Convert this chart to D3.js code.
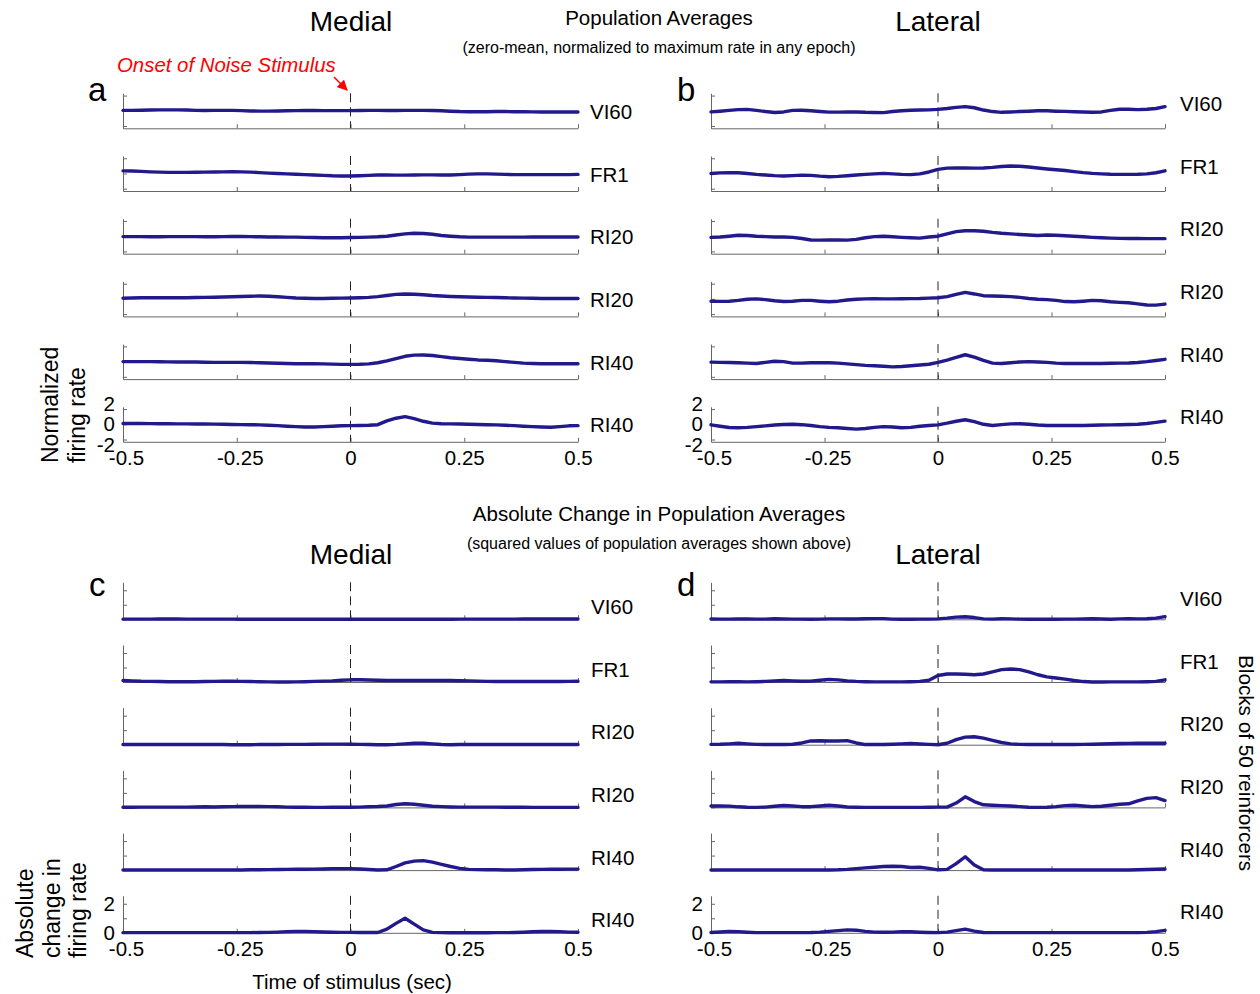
<!DOCTYPE html>
<html>
<head>
<meta charset="utf-8">
<script src="https://cdn.jsdelivr.net/npm/d3@7"></script>
<style>
  body { margin: 0; background: #fff; }
  text { font-family: Arial, "Liberation Sans", Helvetica, sans-serif; }
</style>
</head>
<body>
<svg id="chart" width="1260" height="994"></svg>
<script>
// Time bins (sec relative to noise onset)
const time = [-0.5,-0.48,-0.46,-0.44,-0.42,-0.4,-0.38,-0.36,-0.34,-0.32,-0.3,-0.28,-0.26,-0.24,-0.22,-0.2,-0.18,-0.16,-0.14,-0.12,-0.1,-0.08,-0.06,-0.04,-0.02,0,0.02,0.04,0.06,0.08,0.1,0.12,0.14,0.16,0.18,0.2,0.22,0.24,0.26,0.28,0.3,0.32,0.34,0.36,0.38,0.4,0.42,0.44,0.46,0.48,0.5];

const rowLabels = ["VI60", "FR1", "RI20", "RI20", "RI40", "RI40"];
const xTicks = [-0.5, -0.25, 0, 0.25, 0.5];
const xTickLabels = ["-0.5", "-0.25", "0", "0.25", "0.5"];
const avgTicks = [-2, 0, 2];
const absTicks = [0, 1, 2];
const absTickLabels = ["0", "", "2"];

// a: Medial population averages
const aVI60 = [0.05,0.05,0.08,0.1,0.12, 0.12,0.12,0.1,0.06,0.04, 0.05,0.06,0.05,0.02,-0.02, -0.04,-0.04,-0.02,0,0.02, 0.03,0.03,0.02,0.02,0.02, 0.02,0.04,0.05,0.05,0.04, 0.04,0.05,0.06,0.05,0.03, 0,-0.05,-0.1,-0.12,-0.12, -0.12,-0.1,-0.1,-0.12,-0.12, -0.14,-0.15,-0.15,-0.15,-0.15, -0.15];
const aFR1 = [0.35,0.33,0.28,0.22,0.18, 0.15,0.15,0.15,0.16,0.18, 0.2,0.22,0.24,0.22,0.18, 0.12,0.05,0,-0.05,-0.1, -0.15,-0.2,-0.25,-0.3,-0.32, -0.33,-0.3,-0.25,-0.2,-0.2, -0.22,-0.22,-0.2,-0.18,-0.18, -0.2,-0.2,-0.15,-0.08,-0.05, -0.05,-0.08,-0.12,-0.15,-0.15, -0.15,-0.15,-0.15,-0.15,-0.15, -0.12];
const aRI20a = [-0.05,-0.05,-0.06,-0.08,-0.08, -0.06,-0.05,-0.05,-0.06,-0.08, -0.08,-0.06,-0.04,-0.04,-0.06, -0.08,-0.1,-0.1,-0.12,-0.12, -0.15,-0.18,-0.2,-0.2,-0.2, -0.18,-0.15,-0.12,-0.08,0, 0.15,0.3,0.38,0.35,0.25, 0.1,0,-0.08,-0.12,-0.12, -0.12,-0.12,-0.12,-0.12,-0.12, -0.1,-0.1,-0.1,-0.1,-0.1, -0.1];
const aRI20b = [0.1,0.12,0.15,0.15,0.15, 0.15,0.15,0.15,0.18,0.2, 0.22,0.25,0.28,0.32,0.35, 0.38,0.35,0.28,0.2,0.12, 0.08,0.05,0.05,0.08,0.1, 0.12,0.15,0.2,0.3,0.45, 0.6,0.65,0.62,0.55,0.45, 0.38,0.32,0.28,0.25,0.22, 0.2,0.18,0.15,0.12,0.1, 0.08,0.06,0.05,0.05,0.05, 0.05];
const aRI40a = [0,0,0,0,-0.02, -0.03,-0.05,-0.05,-0.06,-0.08, -0.1,-0.1,-0.1,-0.1,-0.12, -0.15,-0.18,-0.22,-0.25,-0.28, -0.28,-0.28,-0.3,-0.33,-0.36, -0.37,-0.35,-0.3,-0.15,0.1, 0.4,0.7,0.85,0.87,0.8, 0.65,0.5,0.4,0.3,0.22, 0.18,0.12,0,-0.1,-0.2, -0.25,-0.28,-0.28,-0.28,-0.28, -0.28];
const aRI40b = [0.1,0.1,0.1,0.09,0.08, 0.07,0.06,0.05,0.04,0.03, 0.02,0,-0.02,-0.04,-0.05, -0.08,-0.12,-0.18,-0.25,-0.3, -0.35,-0.35,-0.3,-0.25,-0.2, -0.18,-0.15,-0.12,-0.05,0.45, 0.8,1.0,0.75,0.4,0.15, 0.08,0.05,0.03,0,-0.02, -0.05,-0.08,-0.12,-0.18,-0.25, -0.3,-0.35,-0.38,-0.3,-0.2, -0.18];

// b: Lateral population averages
const bVI60 = [-0.14,-0.05,0.05,0.15,0.18, 0.05,-0.1,-0.22,-0.15,0.05, 0.08,0,-0.1,-0.18,-0.18, -0.15,-0.15,-0.2,-0.22,-0.24, -0.1,0,0.08,0.1,0.12, 0.19,0.3,0.45,0.55,0.4, 0.1,-0.1,-0.2,-0.15,-0.1, -0.05,0,0,-0.05,-0.08, -0.12,-0.15,-0.2,-0.15,0.05, 0.2,0.2,0.15,0.2,0.3, 0.55];
const bFR1 = [0,0.08,0.12,0.1,0, -0.12,-0.2,-0.28,-0.32,-0.28, -0.22,-0.25,-0.35,-0.42,-0.38, -0.3,-0.2,-0.12,-0.05,0.02, -0.05,-0.12,-0.15,-0.05,0.2, 0.55,0.7,0.72,0.72,0.7, 0.72,0.8,0.92,0.98,0.95, 0.85,0.72,0.6,0.5,0.4, 0.25,0.12,0.02,-0.05,-0.1, -0.12,-0.12,-0.1,-0.05,0.1, 0.35];
const bRI20a = [-0.15,-0.1,0,0.12,0.1, 0,-0.05,-0.1,-0.1,-0.15, -0.3,-0.5,-0.52,-0.5,-0.48, -0.52,-0.42,-0.2,-0.05,0, -0.08,-0.15,-0.2,-0.25,-0.1, 0,0.3,0.6,0.72,0.72, 0.65,0.5,0.38,0.3,0.22, 0.15,0.1,0.15,0.12,0.05, 0,-0.08,-0.15,-0.2,-0.25, -0.28,-0.3,-0.3,-0.32,-0.32, -0.32];
const bRI20b = [-0.3,-0.32,-0.3,-0.2,-0.05, 0,-0.1,-0.25,-0.35,-0.3, -0.2,-0.2,-0.3,-0.38,-0.3, -0.15,-0.05,0,0.02,0, 0,0.02,0.03,0.05,0.1, 0.15,0.3,0.6,0.85,0.65, 0.42,0.38,0.35,0.3,0.2, 0.05,-0.05,-0.1,-0.2,-0.35, -0.38,-0.3,-0.2,-0.25,-0.38, -0.45,-0.5,-0.65,-0.8,-0.82, -0.68];
const bRI40a = [-0.07,-0.1,-0.12,-0.15,-0.2, -0.25,-0.1,0.05,0,-0.2, -0.2,-0.15,-0.15,-0.15,-0.2, -0.3,-0.4,-0.5,-0.55,-0.62, -0.7,-0.65,-0.55,-0.45,-0.35, -0.1,0.2,0.55,0.9,0.6, 0.15,-0.2,-0.25,-0.15,-0.05, 0,-0.05,-0.1,-0.2,-0.25, -0.25,-0.25,-0.25,-0.25,-0.22, -0.2,-0.18,-0.12,0,0.15, 0.3];
const bRI40b = [-0.07,-0.25,-0.42,-0.46,-0.4, -0.3,-0.2,-0.1,-0.02,0, -0.05,-0.15,-0.3,-0.4,-0.46, -0.55,-0.64,-0.55,-0.4,-0.3, -0.35,-0.45,-0.4,-0.25,-0.15, -0.07,0.15,0.4,0.6,0.35, 0,-0.15,-0.05,0.05,0.07, 0,-0.1,-0.15,-0.15,-0.15, -0.15,-0.15,-0.12,-0.1,-0.08, -0.05,-0.03,0,0.1,0.25, 0.42];

// c: Medial absolute change (squared)
const cVI60 = [0.01,0.01,0.01,0.01,0.02, 0.02,0.02,0.01,0.01,0.01, 0.01,0.01,0.01,0,0, 0,0,0,0,0, 0,0,0,0,0, 0,0,0,0,0, 0,0,0,0,0, 0,0,0.01,0.01,0.01, 0.01,0.01,0.01,0.01,0.02, 0.02,0.02,0.02,0.02,0.02, 0.02];
const cFR1 = [0.1,0.08,0.05,0.04,0.03, 0.02,0.02,0.02,0.02,0.03, 0.04,0.05,0.05,0.04,0.03, 0.02,0.01,0,0,0.01, 0.02,0.04,0.06,0.08,0.12, 0.15,0.15,0.14,0.12,0.1, 0.1,0.1,0.1,0.1,0.1, 0.1,0.1,0.09,0.08,0.06, 0.04,0.03,0.03,0.03,0.03, 0.03,0.03,0.03,0.03,0.04, 0.05];
const cRI20a = [0.01,0.01,0.01,0.01,0.01, 0.01,0.01,0.01,0.01,0.01, 0.01,0.01,0,0,0, 0.01,0.01,0.01,0.02,0.02, 0.02,0.03,0.04,0.04,0.04, 0.03,0.02,0.01,0,0, 0.02,0.06,0.1,0.1,0.06, 0.01,0,0.01,0.01,0.01, 0.01,0.01,0.01,0.01,0.01, 0.01,0.01,0.01,0.01,0.01, 0.01];
const cRI20b = [0.01,0.01,0.02,0.02,0.02, 0.02,0.02,0.02,0.03,0.04, 0.03,0.04,0.05,0.06,0.06, 0.06,0.05,0.04,0.02,0.01, 0.01,0,0,0.01,0.01, 0.01,0.02,0.04,0.06,0.1, 0.2,0.25,0.22,0.15,0.08, 0.05,0.03,0.02,0.02,0.02, 0.02,0.02,0.01,0.01,0.01, 0,0,0,0,0, 0];
const cRI40a = [0.01,0.01,0.01,0.01,0.01, 0.01,0.01,0.01,0.01,0.01, 0.01,0.01,0.01,0.01,0.02, 0.02,0.03,0.04,0.05,0.06, 0.06,0.07,0.08,0.1,0.1, 0.1,0.08,0.04,0.01,0.02, 0.25,0.5,0.62,0.65,0.55, 0.4,0.25,0.12,0.05,0.03, 0.02,0.02,0.01,0.01,0.02, 0.04,0.05,0.06,0.06,0.07, 0.07];
const cRI40b = [0.01,0.01,0.01,0.01,0.01, 0.01,0.01,0.01,0.01,0.01, 0.01,0.01,0.01,0.01,0.01, 0.02,0.03,0.05,0.08,0.1, 0.1,0.08,0.06,0.04,0.03, 0.03,0.02,0.02,0.02,0.25, 0.65,1.0,0.6,0.2,0.03, 0.01,0,0,0,0, 0,0.01,0.01,0.02,0.04, 0.07,0.09,0.1,0.08,0.05, 0.04];

// d: Lateral absolute change (squared)
const dVI60 = [0.02,0.01,0.01,0.02,0.03, 0.01,0.01,0.04,0.02,0.01, 0.01,0,0.01,0.03,0.03, 0.02,0.02,0.04,0.05,0.05, 0.01,0,0,0.01,0.01, 0.03,0.08,0.15,0.18,0.12, 0.03,0.01,0.04,0.03,0.01, 0,0,0,0,0.01, 0.01,0.02,0.04,0.02,0, 0.03,0.04,0.03,0.04,0.08, 0.18];
const dFR1 = [0.01,0.01,0.02,0.02,0.01, 0.02,0.04,0.07,0.1,0.08, 0.05,0.06,0.12,0.18,0.15, 0.08,0.04,0.02,0.01,0.01, 0.01,0.01,0.02,0.04,0.12, 0.45,0.55,0.55,0.53,0.5, 0.55,0.7,0.85,0.9,0.85, 0.7,0.5,0.35,0.28,0.2, 0.1,0.03,0,0,0.01, 0.01,0.01,0.01,0.02,0.04, 0.15];
const dRI20a = [0.02,0.03,0.06,0.1,0.06, 0.02,0.01,0.01,0.01,0.03, 0.12,0.26,0.27,0.25,0.26, 0.28,0.12,0.01,0.01,0.01, 0.03,0.06,0.08,0.05,0.02, 0,0.1,0.35,0.52,0.55, 0.45,0.3,0.15,0.06,0.02, 0.01,0.01,0.01,0.01,0.01, 0.01,0.02,0.03,0.05,0.07, 0.08,0.09,0.1,0.1,0.1, 0.1];
const dRI20b = [0.1,0.1,0.09,0.04,0.01, 0,0.02,0.08,0.13,0.1, 0.05,0.05,0.1,0.15,0.1, 0.03,0.01,0,0,0, 0,0,0,0,0.01, 0.02,0.02,0.3,0.73,0.4, 0.18,0.15,0.12,0.1,0.05, 0.01,0,0.01,0.05,0.12, 0.15,0.1,0.05,0.08,0.15, 0.22,0.25,0.45,0.62,0.67, 0.47];
const dRI40a = [0.01,0.01,0.01,0.01,0.01, 0.01,0.01,0.01,0.01,0.01, 0.01,0.01,0.01,0.01,0.02, 0.05,0.1,0.15,0.2,0.25, 0.27,0.25,0.18,0.2,0.12, 0.02,0.05,0.45,0.92,0.35, 0.02,0.01,0.01,0.01,0.01, 0.01,0.01,0.01,0.01,0.01, 0.01,0.01,0.01,0.01,0.01, 0.01,0.01,0.02,0.04,0.06, 0.08];
const dRI40b = [0.02,0.06,0.1,0.08,0.04, 0.01,0.01,0.01,0.01,0.01, 0.01,0.02,0.05,0.1,0.15, 0.2,0.18,0.1,0.05,0.04, 0.05,0.08,0.07,0.04,0.02, 0.01,0.05,0.15,0.25,0.12, 0.02,0.01,0.01,0.01,0.01, 0.01,0.01,0.01,0.01,0.01, 0.01,0.01,0.01,0.01,0.01, 0.01,0.01,0.01,0.03,0.08, 0.17];

const lineColor = "#22198c";
const axisColor = "#666";
const rowStep = 62.7;
const tickFont = 20.5;

const panels = [
  { letter: "a", lx: 88, ly: 101, series: [aVI60, aFR1, aRI20a, aRI20b, aRI40a, aRI40b],
    x0: 123, x1: 578, top: 93.3, h: 35, domain: [-2.3, 2.3], ticks: avgTicks, tickLabels: ["-2", "0", "2"],
    spread: true, labelX: 590, labelDy: 1 },
  { letter: "b", lx: 677, ly: 101, series: [bVI60, bFR1, bRI20a, bRI20b, bRI40a, bRI40b],
    x0: 711, x1: 1165, top: 93.3, h: 35, domain: [-2.3, 2.3], ticks: avgTicks, tickLabels: ["-2", "0", "2"],
    spread: true, labelX: 1180, labelDy: -7 },
  { letter: "c", lx: 89, ly: 596, series: [cVI60, cFR1, cRI20a, cRI20b, cRI40a, cRI40b],
    x0: 123, x1: 578, top: 582.3, h: 37, domain: [0, 2.55], ticks: absTicks, tickLabels: absTickLabels,
    spread: false, labelX: 591, labelDy: 6 },
  { letter: "d", lx: 677, ly: 596, series: [dVI60, dFR1, dRI20a, dRI20b, dRI40a, dRI40b],
    x0: 711, x1: 1165, top: 582.3, h: 37, domain: [0, 2.55], ticks: absTicks, tickLabels: absTickLabels,
    spread: false, labelX: 1180, labelDy: -2 }
];

const svg = d3.select("#chart");

panels.forEach(p => {
  const x = d3.scaleLinear().domain([-0.5, 0.5]).range([p.x0, p.x1]);

  svg.append("text")
    .attr("x", p.lx).attr("y", p.ly)
    .attr("font-size", 33)
    .text(p.letter);

  p.series.forEach((vals, i) => {
    const top = p.top + i * rowStep;
    const last = i === p.series.length - 1;
    const y = d3.scaleLinear().domain(p.domain).range([top + p.h, top]);
    const g = svg.append("g");

    // y axis
    const yAxis = d3.axisLeft(y)
      .tickValues(p.ticks)
      .tickSizeInner(-4)
      .tickSizeOuter(0)
      .tickPadding(8)
      .tickFormat((d, k) => last ? p.tickLabels[k] : "");
    const ya = g.append("g")
      .attr("transform", `translate(${p.x0},0)`)
      .call(yAxis);
    ya.select(".domain").attr("stroke", axisColor);
    ya.selectAll(".tick line").attr("stroke", axisColor);
    ya.selectAll("text")
      .attr("font-size", tickFont)
      .attr("fill", "#000")
      .attr("font-family", "Arial, 'Liberation Sans', sans-serif")
      .attr("dy", d => p.spread ? (0.32 - 0.13 * d) + "em" : "0.32em");

    // x axis
    const xAxis = d3.axisBottom(x)
      .tickValues(xTicks)
      .tickSizeInner(-4)
      .tickSizeOuter(0)
      .tickPadding(9)
      .tickFormat((d, k) => last ? xTickLabels[k] : "");
    const xa = g.append("g")
      .attr("transform", `translate(0,${top + p.h})`)
      .call(xAxis);
    xa.select(".domain").attr("stroke", axisColor);
    xa.selectAll(".tick line").attr("stroke", axisColor);
    xa.selectAll("text")
      .attr("font-size", tickFont)
      .attr("fill", "#000")
      .attr("font-family", "Arial, 'Liberation Sans', sans-serif")
      .attr("dx", d => d < 0 ? 3 : 0);

    // stimulus onset
    g.append("line")
      .attr("x1", x(0)).attr("x2", x(0))
      .attr("y1", top).attr("y2", top + p.h)
      .attr("stroke", "#222")
      .attr("stroke-width", 1)
      .attr("stroke-dasharray", "9,5");

    // data line
    const line = d3.line()
      .x((d, k) => x(time[k]))
      .y(d => y(d));
    g.append("path")
      .datum(vals)
      .attr("d", line)
      .attr("fill", "none")
      .attr("stroke", lineColor)
      .attr("stroke-width", 3.4)
      .attr("stroke-linejoin", "round")
      .attr("stroke-linecap", "round");

    // row label
    svg.append("text")
      .attr("x", p.labelX)
      .attr("y", top + p.h / 2 + p.labelDy)
      .attr("dy", "0.35em")
      .attr("font-size", 20.5)
      .text(rowLabels[i]);
  });
});

// Titles
const titles = [
  { t: "Medial", x: 351, y: 31, s: 28 },
  { t: "Lateral", x: 938, y: 31, s: 28 },
  { t: "Population Averages", x: 659, y: 25, s: 20.5 },
  { t: "(zero-mean, normalized to maximum rate in any epoch)", x: 659, y: 53, s: 16 },
  { t: "Absolute Change in Population Averages", x: 659, y: 521, s: 20.5 },
  { t: "(squared values of population averages shown above)", x: 659, y: 549, s: 16 },
  { t: "Medial", x: 351, y: 564, s: 28 },
  { t: "Lateral", x: 938, y: 564, s: 28 },
  { t: "Time of stimulus (sec)", x: 352, y: 989, s: 20.5 }
];
titles.forEach(d => {
  svg.append("text")
    .attr("x", d.x).attr("y", d.y)
    .attr("text-anchor", "middle")
    .attr("font-size", d.s)
    .text(d.t);
});

// Y labels (rotated)
const yLabelTop = ["Normalized", "firing rate"];
yLabelTop.forEach((t, i) => {
  svg.append("text")
    .attr("transform", `translate(${58 + i * 27},463) rotate(-90)`)
    .attr("font-size", 23)
    .text(t);
});
const yLabelBottom = ["Absolute", "change in", "firing rate"];
yLabelBottom.forEach((t, i) => {
  svg.append("text")
    .attr("transform", `translate(${33 + i * 26.5},958) rotate(-90)`)
    .attr("font-size", 23)
    .text(t);
});

svg.append("text")
  .attr("transform", "translate(1239,655) rotate(90)")
  .attr("font-size", 20.7)
  .text("Blocks of 50 reinforcers");

// Onset annotation
svg.append("defs").append("marker")
  .attr("id", "arrow")
  .attr("viewBox", "0 0 10 10")
  .attr("refX", 9).attr("refY", 5)
  .attr("markerWidth", 7).attr("markerHeight", 7)
  .attr("orient", "auto")
  .append("path")
  .attr("d", "M0,0 L10,5 L0,10 z")
  .attr("fill", "#f00");

svg.append("text")
  .attr("x", 117).attr("y", 72)
  .attr("font-size", 20.4)
  .attr("font-style", "italic")
  .attr("fill", "#f00")
  .text("Onset of Noise Stimulus");

svg.append("line")
  .attr("x1", 334).attr("y1", 77)
  .attr("x2", 347).attr("y2", 90)
  .attr("stroke", "#f00")
  .attr("stroke-width", 1.5)
  .attr("marker-end", "url(#arrow)");
</script>
</body>
</html>
